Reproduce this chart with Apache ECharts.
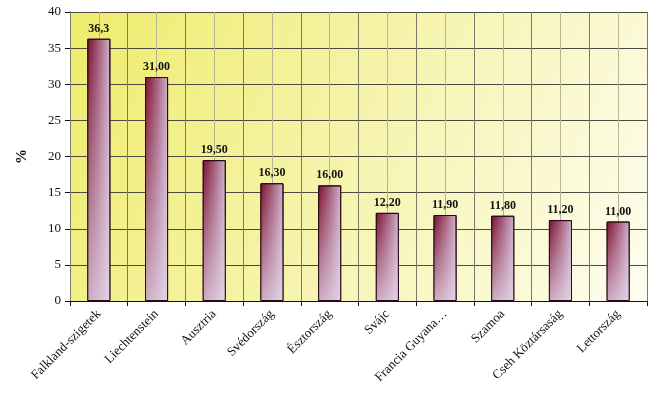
<!DOCTYPE html>
<html>
<head>
<meta charset="utf-8">
<script src="https://cdn.jsdelivr.net/npm/echarts@6/dist/echarts.min.js"></script>
<style>
  html, body { margin: 0; padding: 0; background: #fff; }
  #chart { width: 664px; height: 398px; }
</style>
</head>
<body>
<div id="chart"></div>
<script>
// országok
var countries = ["Falkland-szigetek", "Liechtenstein", "Ausztria", "Svédország", "Észtország",
  "Svájc", "Francia Guyana…", "Szamoa", "Cseh Köztársaság", "Lettország"];
// értékek (%)
var values = [36.3, 31.0, 19.5, 16.3, 16.0, 12.2, 11.9, 11.8, 11.2, 11.0];
// feliratok a oszlopok fölött
var valueLabels = ["36,3", "31,00", "19,50", "16,30", "16,00", "12,20", "11,90", "11,80", "11,20", "11,00"];

var chart = echarts.init(document.getElementById("chart"));
var serif = "Liberation Serif";

var option = {
  animation: false,
  backgroundColor: "#fff",
  grid: {
    left: 70,
    right: 17,
    top: 12,
    bottom: 97,
    show: true,
    borderWidth: 0,
    backgroundColor: {
      type: "linear", x: 0, y: 0, x2: 1, y2: 1,
      colorStops: [
        { offset: 0, color: "#eeec6a" },
        { offset: 0.5, color: "#f6f4ae" },
        { offset: 1, color: "#fefdf0" }
      ]
    }
  },
  xAxis: [
    {
      type: "category",
      data: countries,
      axisLine: { lineStyle: { color: "#111", width: 1 } },
      axisTick: { show: true, length: 5, lineStyle: { color: "#111" } },
      splitLine: { show: true, lineStyle: { color: "#7a7a68", width: 1 } },
      axisLabel: {
        rotate: 45,
        margin: 11,
        interval: 0,
        fontFamily: serif,
        fontSize: 13,
        color: "#111"
      },
      z: 3
    },
    {
      // félosztásos rácsvonalak
      type: "value",
      min: 0,
      max: 20,
      interval: 1,
      show: true,
      position: "bottom",
      axisLine: { show: false },
      axisTick: { show: false },
      axisLabel: { show: false },
      splitLine: { show: true, lineStyle: { color: "#b4b496", width: 1 } }
    }
  ],
  yAxis: {
    type: "value",
    min: 0,
    max: 40,
    interval: 5,
    name: "%",
    nameLocation: "middle",
    nameGap: 40,
    nameRotate: 90,
    nameTextStyle: { fontFamily: serif, fontSize: 15, fontWeight: "bold", color: "#111" },
    axisLine: { show: true, lineStyle: { color: "#111" } },
    axisTick: { show: true, length: 5, lineStyle: { color: "#111" } },
    axisLabel: { fontFamily: serif, fontSize: 13, color: "#111", margin: 9 },
    splitLine: { show: true, lineStyle: { color: "#4a4a40", width: 1 } }
  },
  series: [
    {
      name: "base",
      type: "bar",
      xAxisIndex: 0,
      data: values,
      barWidth: "40%",
      itemStyle: {
        borderColor: "#2a0a14",
        borderWidth: 1,
        color: {
          type: "linear", x: 0, y: 0, x2: 1, y2: 0,
          colorStops: [
            { offset: 0, color: "#7a0e2e" },
            { offset: 0.5, color: "#a45a78" },
            { offset: 1, color: "#cdb0cc" }
          ]
        }
      },
      label: {
        show: true,
        position: "top",
        distance: 4,
        fontFamily: serif,
        fontSize: 12,
        fontWeight: "bold",
        color: "#111",
        formatter: function (p) {
          return valueLabels[p.dataIndex];
        }
      },
      z: 4
    },
    {
      name: "shade",
      type: "bar",
      xAxisIndex: 0,
      data: values,
      barWidth: "40%",
      barGap: "-100%",
      silent: true,
      itemStyle: {
        borderColor: "#2a0a14",
        borderWidth: 1,
        color: {
          type: "linear", x: 0, y: 0, x2: 0, y2: 1,
          colorStops: [
            { offset: 0, color: "rgba(232,224,242,0)" },
            { offset: 1, color: "rgba(232,224,242,0.75)" }
          ]
        }
      },
      z: 5
    }
  ]
};

chart.setOption(option);
</script>
</body>
</html>
